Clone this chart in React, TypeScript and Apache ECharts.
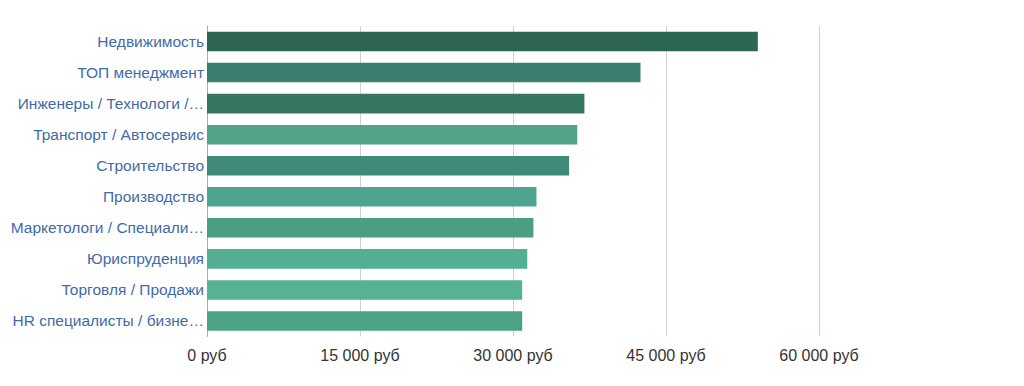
import React, { useEffect, useRef } from "react";
import * as echarts from "echarts";

const categories = [
  "Недвижимость",
  "ТОП менеджмент",
  "Инженеры / Технологи / Производство",
  "Транспорт / Автосервис",
  "Строительство",
  "Производство",
  "Маркетологи / Специалисты по рекламе",
  "Юриспруденция",
  "Торговля / Продажи",
  "HR специалисты / бизнес-тренеры",
];
const values = [54000, 42500, 37000, 36300, 35500, 32300, 32000, 31400, 30900, 30900];
const barColors = [
  "#2d6650",
  "#3a7f70",
  "#367561",
  "#52a488",
  "#3f8a78",
  "#4fa48f",
  "#4b9e80",
  "#53ae94",
  "#55b394",
  "#4ba284",
];
const xTicks = [0, 15000, 30000, 45000, 60000];

const LABEL_SIZE = 15.5;
const LABEL_FONT = LABEL_SIZE + "px 'Liberation Sans', Arial, sans-serif";
const LABEL_MAX = 195;

function fmt(v: number): string {
  const s = String(Math.round(v)).replace(/\B(?=(\d{3})+(?!\d))/g, " ");
  return s + " руб";
}

let measureCtx: CanvasRenderingContext2D | null = null;
function textWidth(t: string): number {
  if (!measureCtx) {
    const c = document.createElement("canvas");
    measureCtx = c.getContext("2d");
  }
  if (!measureCtx) return t.length * 8;
  measureCtx.font = LABEL_FONT;
  return measureCtx.measureText(t).width;
}

function truncate(t: string): string {
  if (textWidth(t) <= LABEL_MAX) return t;
  let s = t;
  while (s.length > 1 && textWidth(s.trimEnd() + "…") > LABEL_MAX) s = s.slice(0, -1);
  return s.trimEnd() + "…";
}

export default function App() {
  const ref = useRef<HTMLDivElement>(null);
  useEffect(() => {
    if (!ref.current) return;
    const chart = echarts.init(ref.current, undefined, { renderer: "svg" });
    chart.setOption({
      animation: false,
      grid: {
        left: 199,
        right: 197,
        top: 18,
        bottom: 41.5,
        containLabel: false,
        outerBoundsMode: "none",
      },
      xAxis: {
        type: "value",
        min: xTicks[0],
        max: xTicks[xTicks.length - 1],
        interval: 15000,
        axisLine: { show: false },
        axisTick: { show: false },
        splitLine: { show: true, lineStyle: { color: "#d0d0d0", width: 1 } },
        axisLabel: {
          formatter: (v: number) => fmt(v),
          color: "#333333",
          fontSize: 16,
          fontFamily: "Liberation Sans, Arial, sans-serif",
          margin: 11,
        },
      },
      yAxis: {
        type: "category",
        inverse: true,
        data: categories,
        axisLine: { show: true, lineStyle: { color: "#8fbcaa", width: 1 } },
        axisTick: { show: false },
        axisLabel: {
          color: "#3f6ba8",
          fontSize: LABEL_SIZE,
          fontFamily: "Liberation Sans, Arial, sans-serif",
          margin: 3,
          formatter: (v: string) => truncate(v),
        },
      },
      series: [
        {
          type: "bar",
          data: values.map((v, i) => ({ value: v, itemStyle: { color: barColors[i] } })),
          barWidth: "63%",
        },
      ],
    });
    return () => chart.dispose();
  }, []);
  return <div ref={ref} style={{ width: 1008, height: 370 }} />;
}
